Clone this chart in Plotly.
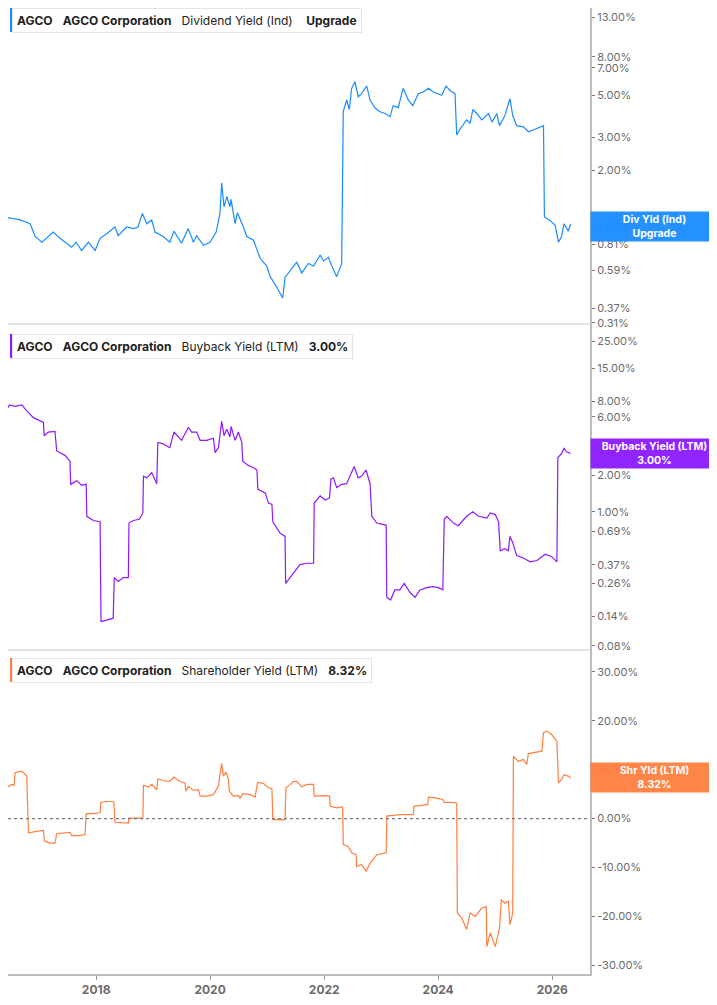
import plotly.graph_objects as go

# AGCO yields (values in %)
div_dates = [
  "2016-04-25", "2016-06-17", "2016-09-01", "2016-11-04", "2016-12-06",
  "2017-01-18", "2017-04-01", "2017-05-14", "2017-07-28", "2017-08-25", "2017-09-30", "2017-11-12", "2017-12-25",
  "2018-01-26", "2018-03-09", "2018-05-01", "2018-05-22", "2018-07-15", "2018-08-27", "2018-09-26", "2018-10-24", "2018-11-21", "2018-12-23",
  "2019-01-13", "2019-03-06", "2019-04-18", "2019-05-14", "2019-07-02", "2019-08-14", "2019-09-16", "2019-10-07", "2019-11-19",
  "2020-01-01", "2020-02-09", "2020-03-04", "2020-03-15", "2020-03-30", "2020-04-17", "2020-05-07", "2020-05-14", "2020-06-09", "2020-06-24", "2020-08-01", "2020-08-23", "2020-10-05", "2020-11-17", "2020-12-29",
  "2021-01-20", "2021-03-02", "2021-04-10", "2021-04-25", "2021-05-28", "2021-07-09", "2021-08-10", "2021-09-22", "2021-10-25", "2021-12-06", "2021-12-27",
  "2022-01-28", "2022-02-19", "2022-03-22", "2022-04-23", "2022-05-03", "2022-05-25", "2022-06-11", "2022-06-26", "2022-07-17", "2022-08-07", "2022-08-29", "2022-09-30", "2022-10-22", "2022-11-24", "2022-12-25",
  "2023-01-26", "2023-02-27", "2023-03-19", "2023-04-20", "2023-05-22", "2023-06-24", "2023-07-22", "2023-08-27", "2023-09-28", "2023-10-31", "2023-12-01",
  "2024-01-03", "2024-01-24", "2024-02-21", "2024-03-17", "2024-04-18", "2024-04-29", "2024-05-20", "2024-07-02", "2024-07-24", "2024-08-10", "2024-09-05", "2024-10-07", "2024-11-19", "2024-12-11",
  "2025-01-11", "2025-01-28", "2025-03-04", "2025-04-05", "2025-04-23", "2025-05-18", "2025-06-30", "2025-08-01", "2025-09-13", "2025-11-06", "2025-11-12", "2025-12-19",
  "2026-01-20", "2026-02-10", "2026-03-02", "2026-03-17", "2026-04-14", "2026-04-29",
]
div_yield = [
  1.00, 1.12, 1.09, 1.04, 0.89,
  0.83, 0.94, 0.87, 0.78, 0.83, 0.75, 0.83, 0.75,
  0.87, 0.92, 1.00, 0.90, 1.00, 0.98, 1.00, 1.18, 1.04, 1.09,
  0.94, 0.89, 0.83, 0.95, 0.82, 0.98, 0.83, 0.90, 0.80,
  0.83, 0.94, 1.18, 1.71, 1.28, 1.45, 1.28, 1.40, 1.04, 1.19, 1.00, 0.89, 0.85, 0.68, 0.62,
  0.545, 0.48, 0.42, 0.54, 0.59, 0.65, 0.57, 0.64, 0.62, 0.71, 0.66,
  0.69, 0.62, 0.545, 0.64, 4.09, 4.72, 4.20, 5.44, 5.90, 4.91, 5.10, 5.60, 4.72, 4.26, 4.09,
  4.00, 3.85, 4.40, 4.30, 5.44, 4.72, 4.40, 5.10, 5.20, 5.44, 5.20,
  5.10, 5.00, 5.60, 5.30, 5.10, 3.08, 3.30, 3.70, 3.55, 4.20, 4.00, 3.70, 4.00, 3.60,
  4.00, 3.45, 3.90, 4.80, 3.90, 3.45, 3.40, 3.20, 3.30, 3.45, 1.13, 1.08,
  1.02, 0.83, 0.89, 1.04, 0.95, 1.04,
]

bb_dates = [
  "2016-04-25", "2016-05-28", "2016-06-24", "2016-07-30", "2016-09-12", "2016-10-13", "2016-11-25",
  "2017-01-28", "2017-02-02", "2017-02-28", "2017-04-12", "2017-04-23", "2017-06-15", "2017-07-17", "2017-07-22", "2017-08-29", "2017-09-30", "2017-10-29", "2017-11-02", "2017-12-14",
  "2018-01-26", "2018-02-01", "2018-03-09", "2018-04-20", "2018-04-27", "2018-05-22", "2018-06-24", "2018-07-26", "2018-07-30", "2018-08-27", "2018-10-05", "2018-10-27", "2018-10-31", "2018-11-21", "2018-12-23",
  "2019-01-24", "2019-01-31", "2019-03-06", "2019-04-18", "2019-05-14", "2019-07-02", "2019-08-14", "2019-09-05", "2019-10-07", "2019-10-29", "2019-12-11",
  "2020-01-22", "2020-02-02", "2020-02-23", "2020-03-15", "2020-03-30", "2020-04-17", "2020-05-07", "2020-05-14", "2020-06-09", "2020-06-30", "2020-07-22", "2020-07-28", "2020-09-02", "2020-10-05", "2020-10-27", "2020-11-02", "2020-12-19",
  "2021-01-09", "2021-01-31", "2021-02-06", "2021-03-24", "2021-04-25", "2021-04-29", "2021-05-28", "2021-06-18", "2021-07-30", "2021-09-12", "2021-10-25", "2021-10-29", "2021-12-06",
  "2022-01-07", "2022-02-04", "2022-02-13", "2022-03-01", "2022-03-22", "2022-04-23", "2022-05-25", "2022-06-15", "2022-07-12", "2022-08-07", "2022-08-29", "2022-09-26", "2022-10-22", "2022-11-02", "2022-12-04",
  "2023-02-02", "2023-02-06", "2023-03-02", "2023-03-30", "2023-05-01", "2023-05-29", "2023-07-04", "2023-08-06", "2023-09-07", "2023-10-20", "2023-11-28",
  "2024-01-03", "2024-01-31", "2024-02-09", "2024-02-25", "2024-04-08", "2024-05-09", "2024-06-01", "2024-07-02", "2024-08-10", "2024-09-16", "2024-11-08", "2024-11-30",
  "2025-01-01", "2025-01-22", "2025-02-02", "2025-03-04", "2025-03-26", "2025-04-05", "2025-04-23", "2025-05-18", "2025-06-30", "2025-08-12", "2025-09-25", "2025-11-17", "2025-12-29",
  "2026-01-31", "2026-02-06", "2026-03-02", "2026-03-17", "2026-04-03", "2026-04-29",
]
bb_yield = [
  6.7, 6.5, 7.5, 7.3, 7.5, 6.7, 5.9,
  5.4, 4.2, 4.5, 4.55, 3.15, 2.9, 2.6, 1.68, 1.8, 1.65, 1.68, 0.92, 0.85,
  0.83, 0.127, 0.13, 0.135, 0.29, 0.27, 0.29, 0.29, 0.81, 0.85, 0.87, 0.98, 1.96, 1.9, 2.1,
  1.7, 3.7, 3.6, 3.35, 4.5, 3.85, 4.9, 4.5, 4.5, 3.85, 3.85,
  4.0, 3.05, 3.35, 5.5, 4.2, 4.75, 4.1, 5.0, 3.85, 4.5, 3.7, 2.6, 2.4, 2.3, 2.2, 1.53, 1.43,
  1.18, 1.15, 0.83, 0.67, 0.63, 0.26, 0.29, 0.32, 0.37, 0.38, 0.38, 1.18, 1.35,
  1.25, 1.3, 1.85, 1.9, 1.58, 1.68, 1.7, 1.96, 2.35, 1.9, 1.96, 2.2, 1.7, 0.92, 0.81,
  0.78, 0.20, 0.19, 0.23, 0.23, 0.26, 0.22, 0.20, 0.23, 0.24, 0.245,
  0.24, 0.23, 0.87, 0.92, 0.81, 0.77, 0.83, 0.92, 1.0, 0.92, 0.89, 0.98,
  0.95, 0.83, 0.48, 0.50, 0.48, 0.63, 0.56, 0.44, 0.42, 0.39, 0.40, 0.45, 0.43,
  0.39, 2.78, 3.0, 3.3, 3.1, 3.00,
]

shr_dates = [
  "2016-04-25", "2016-06-04", "2016-07-09", "2016-07-24", "2016-07-30", "2016-09-12", "2016-10-13", "2016-10-24", "2016-12-16",
  "2017-01-28", "2017-02-03", "2017-03-10", "2017-04-12", "2017-04-23", "2017-07-17", "2017-07-28", "2017-09-09", "2017-10-22", "2017-10-29", "2017-12-14",
  "2018-01-26", "2018-01-30", "2018-03-09", "2018-04-24", "2018-05-01", "2018-07-26", "2018-07-30", "2018-10-27", "2018-10-31", "2018-12-01", "2018-12-23",
  "2019-01-24", "2019-01-31", "2019-03-06", "2019-04-18", "2019-05-14", "2019-06-21", "2019-07-24", "2019-07-30", "2019-08-14", "2019-09-16", "2019-10-18", "2019-10-29", "2019-12-11",
  "2020-01-22", "2020-02-23", "2020-03-15", "2020-03-26", "2020-04-12", "2020-04-27", "2020-05-03", "2020-05-29", "2020-06-30", "2020-07-11", "2020-07-28", "2020-09-13", "2020-10-15", "2020-10-31", "2020-12-07",
  "2021-01-09", "2021-01-31", "2021-02-06", "2021-04-25", "2021-05-01", "2021-05-28", "2021-06-18", "2021-07-09", "2021-08-10", "2021-09-12", "2021-10-25", "2021-10-29", "2021-12-27",
  "2022-02-04", "2022-02-09", "2022-03-22", "2022-04-29", "2022-05-03", "2022-06-04", "2022-06-26", "2022-07-24", "2022-07-28", "2022-08-29", "2022-09-26", "2022-10-22", "2022-12-04",
  "2023-02-02", "2023-02-06", "2023-05-01", "2023-07-26", "2023-07-30", "2023-09-18", "2023-10-27", "2023-10-31", "2023-12-23",
  "2024-01-31", "2024-02-09", "2024-03-17", "2024-04-29", "2024-05-03", "2024-06-01", "2024-07-02", "2024-07-24", "2024-08-25", "2024-10-07", "2024-11-04", "2024-11-08", "2024-11-30",
  "2025-01-01", "2025-01-28", "2025-02-09", "2025-03-04", "2025-03-26", "2025-04-05", "2025-04-23", "2025-04-27", "2025-05-29", "2025-06-30", "2025-07-22", "2025-08-01", "2025-09-13", "2025-10-27", "2025-11-06", "2025-11-28", "2025-12-29",
  "2026-01-31", "2026-02-10", "2026-03-02", "2026-03-17", "2026-04-14", "2026-04-29",
]
shr_yield = [
  6.6, 6.3, 7.0, 6.8, 9.4, 9.7, 8.7, -2.9, -2.6,
  -2.4, -4.6, -5.0, -5.0, -3.1, -2.8, -3.5, -3.5, -3.3, 1.0, 1.0,
  1.2, 3.3, 3.5, 3.5, -0.75, -0.9, 0.1, 0.1, 6.8, 6.5, 7.0,
  5.9, 8.1, 7.8, 7.6, 8.5, 7.6, 7.3, 5.6, 6.6, 5.8, 5.9, 4.6, 4.6,
  4.9, 6.6, 11.3, 8.7, 9.5, 8.0, 5.6, 4.6, 4.7, 4.2, 5.1, 4.9, 4.4, 7.4, 7.2,
  6.3, 6.1, -0.2, -0.2, 6.3, 7.0, 7.6, 7.6, 6.5, 7.0, 7.0, 4.6, 4.7,
  4.6, 2.5, 2.2, 2.4, -5.3, -5.7, -7.0, -7.4, -9.8, -9.4, -10.8, -9.1, -7.4,
  -7.0, 0.5, 0.8, 0.8, 2.5, 2.7, 2.9, 4.4, 4.2,
  3.9, 3.3, 3.3, 3.2, -19.3, -20.4, -22.7, -19.3, -20.0, -18.3, -18.0, -26.2, -23.4,
  -26.2, -22.4, -16.6, -17.3, -16.9, -21.7, -19.3, 12.8, 11.7, 12.1, 11.1, 13.3, 13.6, 13.8, 17.6, 17.9, 17.2,
  15.8, 7.3, 8.0, 9.0, 8.7, 8.32,
]

div_ticks = [0.31, 0.37, 0.59, 0.81, 1, 2, 3, 5, 7, 8, 13]
bb_ticks = [0.08, 0.14, 0.26, 0.37, 0.69, 1, 2, 3, 6, 8, 15, 25]
shr_ticks = [-30, -20, -10, 0, 10, 20, 30]
year_ticks = ["2018-01-01", "2020-01-01", "2022-01-01", "2024-01-01", "2026-01-01"]

BLUE, PURPLE, ORANGE = '#1a8cff', '#8c1aff', '#ff7f3f'
FONT = 'Inter'
OFF = 8                      # page body margin, the figure is drawn that far in
W, H = 717 - OFF, 1005 - OFF
ML, MR, MT, MB = 0, 127, 0, 31
PW, PH = W - ML - MR, H - MT - MB

# paper coords from window pixels
def px_x(p): return (p - OFF - ML) / PW
def px_y(p): return 1 - (p - OFF - MT) / PH

fig = go.Figure()
for xs, ys, ax, col in [(div_dates, div_yield, 'y', BLUE),
                        (bb_dates, bb_yield, 'y2', PURPLE),
                        (shr_dates, shr_yield, 'y3', ORANGE)]:
  fig.add_trace(go.Scatter(x=xs, y=ys, yaxis=ax, mode='lines', line=dict(color=col, width=1.2),
                           hoverinfo='skip', showlegend=False))

yax = dict(side='right', anchor='x', showgrid=False, zeroline=False, showline=True,
           linecolor='#bdbdbd', linewidth=2, ticks='outside', ticklen=3, tickcolor='#777',
           tickfont=dict(family=FONT, size=11, color='#6b6b6b'))
d1, d2 = px_y(650), px_y(324)

fig.update_layout(
  width=W, height=H, margin=dict(l=ML, r=MR, t=MT, b=MB),
  paper_bgcolor='white', plot_bgcolor='white', showlegend=False,
  xaxis=dict(anchor='y3', range=['2016-06-15', '2026-08-31'], tickvals=year_ticks, tickformat='%Y',
             showgrid=False, zeroline=False, showline=True, linecolor='#bdbdbd', linewidth=2,
             ticks='outside', ticklen=4, tickcolor='#999',
             tickfont=dict(family=FONT, size=12, color='#6b6b6b', weight='bold')),
  yaxis=dict(yax, domain=[d2, 1], type='log', range=[-0.515, 1.162],
             tickvals=div_ticks, ticktext=[f"{v:.2f}%" for v in div_ticks]),
  yaxis2=dict(yax, domain=[d1, d2], type='log', range=[-1.13, 1.537],
              tickvals=bb_ticks, ticktext=[f"{v:.2f}%" for v in bb_ticks]),
  yaxis3=dict(yax, domain=[0, d1], range=[-31.8, 34.5],
              tickvals=shr_ticks, ticktext=[f"{v:.2f}%" for v in shr_ticks]),
)

# panel separators and the 0% reference line
for yy in (d1, d2):
  fig.add_shape(type='line', xref='paper', yref='paper', x0=0, x1=1, y0=yy, y1=yy,
                line=dict(color='#c8c8c8', width=1))
fig.add_shape(type='line', xref='paper', yref='y3', x0=0, x1=1, y0=0, y1=0,
              line=dict(color='#777', width=1.2, dash='dot'))

# header boxes, one per panel
sp = '\u00a0\u00a0 '
headers = [
  (8, BLUE, f"<b>AGCO</b>{sp}<b>AGCO Corporation</b>{sp}Dividend Yield (Ind){sp}\u00a0<b>Upgrade</b>"),
  (334, PURPLE, f"<b>AGCO</b>{sp}<b>AGCO Corporation</b>{sp}Buyback Yield (LTM){sp}<b>3.00%</b>"),
  (658, ORANGE, f"<b>AGCO</b>{sp}<b>AGCO Corporation</b>{sp}Shareholder Yield (LTM){sp}<b>8.32%</b>"),
]
for top, col, txt in headers:
  fig.add_annotation(xref='paper', yref='paper', x=px_x(12), y=px_y(top), xanchor='left', yanchor='top',
                     text=txt, showarrow=False, bgcolor='white', bordercolor='#e4e4e4', borderwidth=1,
                     borderpad=4, font=dict(family=FONT, size=12, color='#222'))
  fig.add_shape(type='rect', xref='paper', yref='paper', x0=px_x(10), x1=px_x(13),
                y0=px_y(top + 24), y1=px_y(top), fillcolor=col, line=dict(width=0))

# last-value tags on the right axis (they cover the nearby tick label, as in the source)
tags = [
  ('y', 0, BLUE, 'Div Yld (Ind)<br>Upgrade'),
  ('y2', 0.4771, PURPLE, 'Buyback Yield (LTM)<br>3.00%'),
  ('y3', shr_yield[-1], ORANGE, 'Shr Yld (LTM)<br>8.32%'),
]
for ax, yv, col, txt in tags:
  fig.add_annotation(xref='paper', yref=ax, x=1, y=yv, xanchor='left', yanchor='middle',
                     text=f"<b>{txt}</b>", showarrow=False, bgcolor=col, opacity=0.95,
                     width=MR - 2, borderpad=1, align='center',
                     font=dict(family=FONT, size=10.5, color='white'))

fig.write_html("out.html")
